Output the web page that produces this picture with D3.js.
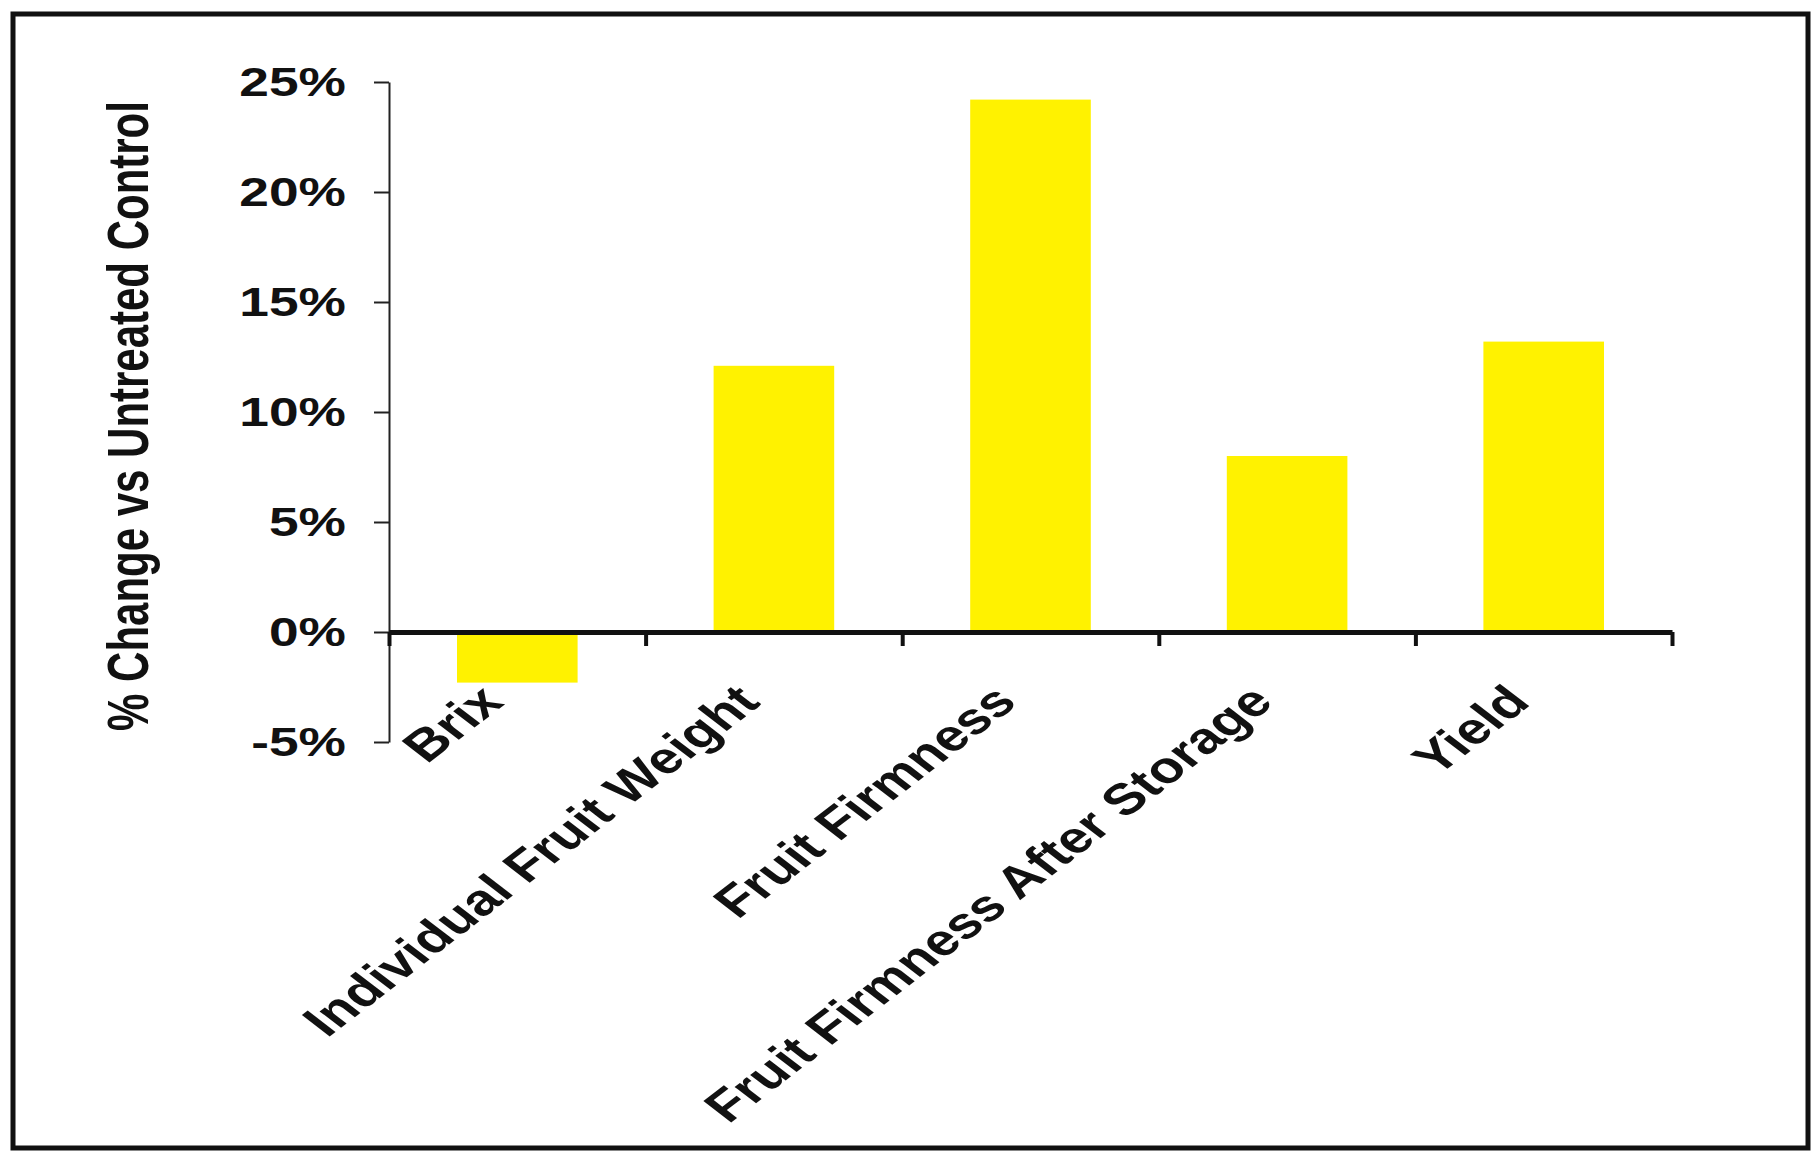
<!DOCTYPE html>
<html>
<head>
<meta charset="utf-8">
<script src="https://cdn.jsdelivr.net/npm/d3@7"></script>
<style>
  html, body { margin: 0; padding: 0; background: #fff; }
  svg { display: block; }
  text { font-family: "Liberation Sans", Arial, sans-serif; font-weight: bold; fill: #111; }
</style>
</head>
<body>
<svg id="chart" width="1818" height="1152"></svg>
<script>
// ── Data ────────────────────────────────────────────────────────────────
const categories = ['Brix', 'Individual Fruit Weight', 'Fruit Firmness',
  'Fruit Firmness After Storage', 'Yield'];
const pctChange = [-0.023, 0.121, 0.242, 0.080, 0.132];
const yTicks = [-0.05, 0, 0.05, 0.10, 0.15, 0.20, 0.25];
const yTitle = '% Change vs Untreated Control';

// ── Layout ──────────────────────────────────────────────────────────────
const W = 1818, H = 1152;
const plot = { left: 389, right: 1672, top: 82, bottom: 742 };
const stretch = 1.3;   // the source picture is widened horizontally

const svg = d3.select('#chart');

svg.append('rect')
  .attr('width', W).attr('height', H)
  .attr('fill', '#fff');

// outer frame
svg.append('rect')
  .attr('x', 13).attr('y', 14)
  .attr('width', 1795).attr('height', 1134)
  .attr('fill', 'none')
  .attr('stroke', '#111')
  .attr('stroke-width', 5);

const y = d3.scaleLinear().domain([-0.05, 0.25]).range([plot.bottom, plot.top]);

const x = d3.scaleBand()
  .domain(categories)
  .range([plot.left, plot.right])
  .paddingInner(0.53)
  .paddingOuter(0.265);

// category boundaries for the x tick marks
const xEdge = d3.scaleLinear().domain([0, categories.length]).range([plot.left, plot.right]);

const pct = d => d3.format('.0%')(d).replace('\u2212', '-');

// ── Bars ────────────────────────────────────────────────────────────────
svg.append('g')
  .selectAll('rect')
  .data(categories)
  .join('rect')
  .attr('x', d => x(d))
  .attr('width', x.bandwidth())
  .attr('y', (d, i) => y(Math.max(0, pctChange[i])))
  .attr('height', (d, i) => Math.abs(y(pctChange[i]) - y(0)))
  .attr('fill', '#fff200');

// ── Y axis ──────────────────────────────────────────────────────────────
const yAxis = svg.append('g')
  .attr('transform', `translate(${plot.left},0)`)
  .call(d3.axisLeft(y)
    .tickValues(yTicks)
    .tickSize(15)
    .tickSizeOuter(0)
    .tickFormat(pct));

yAxis.select('.domain').attr('stroke', '#222').attr('stroke-width', 2);
yAxis.selectAll('.tick line').attr('stroke', '#222').attr('stroke-width', 2);
yAxis.selectAll('.tick text')
  .attr('x', -43 / stretch)
  .attr('transform', `scale(${stretch},1)`)
  .style('font-size', '41px')
  .style('font-family', '"Liberation Sans", Arial, sans-serif')
  .style('font-weight', 'bold')
  .attr('fill', '#111');

// ── X axis (at zero) ────────────────────────────────────────────────────
const xAxis = svg.append('g')
  .attr('transform', `translate(0,${y(0)})`)
  .call(d3.axisBottom(xEdge)
    .tickValues(d3.range(categories.length + 1))
    .tickSize(14)
    .tickSizeOuter(0)
    .tickFormat(''));

xAxis.select('.domain').attr('stroke', '#111').attr('stroke-width', 5);
xAxis.selectAll('.tick line').attr('stroke', '#111').attr('stroke-width', 4);

// rotated category labels
svg.append('g')
  .selectAll('text')
  .data(categories)
  .join('text')
  .attr('transform', d =>
    `translate(${x(d) + x.bandwidth() / 2 - 26},693) scale(${stretch},1) rotate(-45)`)
  .attr('text-anchor', 'end')
  .attr('dy', '0.35em')
  .style('font-size', '44px')
  .text(d => d);

// ── Y axis title ────────────────────────────────────────────────────────
svg.append('text')
  .attr('transform', `translate(148,416) scale(1.35,1) rotate(-90)`)
  .attr('text-anchor', 'middle')
  .style('font-size', '42px')
  .text(yTitle);
</script>
</body>
</html>
